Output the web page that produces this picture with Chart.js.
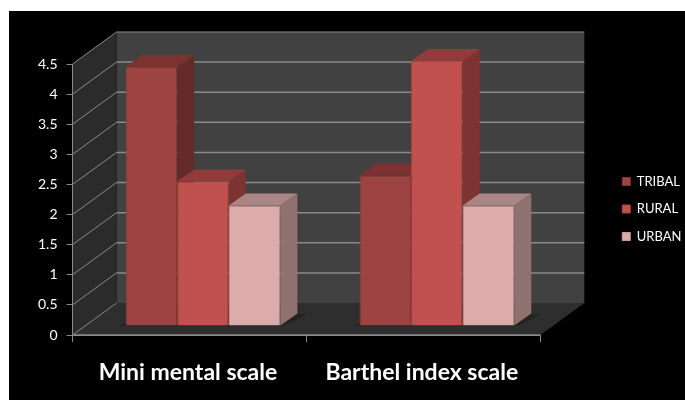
<!DOCTYPE html>
<html>
<head>
<meta charset="utf-8">
<style>
  html, body { margin: 0; padding: 0; background: #fff; }
  #wrap { position: relative; width: 685px; height: 400px; }
</style>
<script src="https://cdn.jsdelivr.net/npm/chart.js@4/dist/chart.umd.min.js"></script>
</head>
<body>
<div id="wrap"><canvas id="c" width="685" height="400"></canvas></div>
<script>
const categories = ['Mini mental scale', 'Barthel index scale'];
const tribal = [4.3, 2.5];
const rural = [2.4, 4.4];
const urban = [2.0, 2.0];

const seriesNames = ['TRIBAL', 'RURAL', 'URBAN'];
const frontColors = ['#9d4341', '#c0514e', '#dcabac'];
const edgeColors = ['#853737', '#a84643', '#c99a9a'];
const sideColors = ['#652b2a', '#7d3331', '#8f7270'];
const topColors = ['#7b3231', '#913c3a', '#a98685'];

// Depth of the box behind the front plane, and where the bars sit inside it
const BOX_DX = 44, BOX_DY = -32;
const BAR_SHIFT_X = 13.5, BAR_SHIFT_Y = -9;
const BAR_DX = 17, BAR_DY = -12;

function poly(ctx, pts) {
  ctx.beginPath();
  pts.forEach((p, i) => i ? ctx.lineTo(p[0], p[1]) : ctx.moveTo(p[0], p[1]));
  ctx.closePath();
  ctx.fill();
}

const box3d = {
  id: 'box3d',
  beforeDraw(chart) {
    const { ctx, scales: { x, y } } = chart;
    const L = x.left, R = x.right, B = y.getPixelForValue(0), T = y.getPixelForValue(4.5);
    ctx.save();
    // black panel
    ctx.fillStyle = '#000';
    ctx.fillRect(9, 11, 676, 389);
    // back wall
    ctx.fillStyle = '#414141';
    ctx.fillRect(L + BOX_DX, T + BOX_DY, R - L, B - T);
    // left wall
    ctx.fillStyle = '#2b2b2b';
    poly(ctx, [[L, T], [L + BOX_DX, T + BOX_DY], [L + BOX_DX, B + BOX_DY], [L, B]]);
    // floor
    ctx.fillStyle = '#2e2e2e';
    poly(ctx, [[L, B], [L + BOX_DX, B + BOX_DY], [R + BOX_DX, B + BOX_DY], [R, B]]);
    // soft shadow under the bars
    ctx.fillStyle = '#242424';
    const first = chart.getDatasetMeta(0).data;
    const last = chart.getDatasetMeta(2).data;
    first.forEach((bar, k) => {
      const l = bar.x - bar.width / 2 + BAR_SHIFT_X;
      const r = last[k].x + last[k].width / 2 + BAR_SHIFT_X;
      const b = B + BAR_SHIFT_Y;
      poly(ctx, [[l - 6, b], [l + BAR_DX, b + BAR_DY], [r + BAR_DX + 10, b + BAR_DY], [r + 4, b]]);
    });
    // gridlines on both walls
    ctx.strokeStyle = '#8a8a8a';
    y.ticks.forEach(t => {
      const py = y.getPixelForValue(t.value);
      ctx.lineWidth = 1;
      ctx.beginPath();
      ctx.moveTo(L, py);
      ctx.lineTo(L + BOX_DX, py + BOX_DY);
      ctx.stroke();
      if (t.value === 0) return;
      ctx.lineWidth = t.value === 4.5 ? 1 : 1.5;
      ctx.beginPath();
      ctx.moveTo(L + BOX_DX, py + BOX_DY);
      ctx.lineTo(R + BOX_DX, py + BOX_DY);
      ctx.stroke();
    });
    // thick front edge of the floor
    ctx.strokeStyle = '#6f6f6f';
    ctx.lineWidth = 2;
    ctx.beginPath();
    ctx.moveTo(L, B);
    ctx.lineTo(R, B);
    ctx.stroke();
    ctx.restore();
  },
  // Top and side faces go down first, series by series, left to right
  beforeDatasetsDraw(chart) {
    const { ctx } = chart;
    ctx.save();
    ctx.translate(BAR_SHIFT_X, BAR_SHIFT_Y);
    chart.data.datasets.forEach((_, i) => {
      chart.getDatasetMeta(i).data.forEach(bar => {
        const l = bar.x - bar.width / 2, r = bar.x + bar.width / 2;
        const t = bar.y, b = bar.base;
        ctx.fillStyle = sideColors[i];
        poly(ctx, [[r, t], [r + BAR_DX, t + BAR_DY], [r + BAR_DX, b + BAR_DY], [r, b]]);
        ctx.fillStyle = topColors[i];
        poly(ctx, [[l, t], [l + BAR_DX, t + BAR_DY], [r + BAR_DX, t + BAR_DY], [r, t]]);
      });
    });
    ctx.restore();
  },
  // Front faces sit in the same plane as the top and side faces
  beforeDatasetDraw(chart) {
    chart.ctx.save();
    chart.ctx.translate(BAR_SHIFT_X, BAR_SHIFT_Y);
  },
  afterDatasetDraw(chart) {
    chart.ctx.restore();
  }
};

function barSet(i, values) {
  return {
    label: seriesNames[i],
    data: values,
    backgroundColor: frontColors[i],
    borderColor: edgeColors[i],
    borderWidth: 1,
    categoryPercentage: 0.662,
    barPercentage: 1
  };
}

new Chart(document.getElementById('c'), {
  type: 'bar',
  data: {
    labels: categories,
    datasets: [barSet(0, tribal), barSet(1, rural), barSet(2, urban)]
  },
  plugins: [box3d],
  options: {
    responsive: false,
    animation: false,
    layout: { padding: { left: 29, top: 14.4, right: -6.5, bottom: -3.6 } },
    plugins: {
      tooltip: { enabled: false },
      // Empty heading reserves the space above the box without moving the legend
      title: { display: true, text: '', padding: { top: 0, bottom: 35.2 } },
      legend: {
        position: 'right',
        labels: {
          color: '#ffffff',
          font: { family: 'Lato', size: 13 },
          boxWidth: 8,
          boxHeight: 8,
          padding: 14.5
        }
      }
    },
    scales: {
      x: {
        border: { color: '#8a8a8a' },
        grid: { display: true, drawOnChartArea: false, tickLength: 7, color: '#8a8a8a' },
        ticks: {
          color: '#ffffff',
          padding: 17,
          labelOffset: -1.5,
          maxRotation: 0,
          font: { family: 'Lato', size: 23, weight: 'bold' }
        }
      },
      y: {
        min: 0,
        max: 4.5,
        border: { color: '#8a8a8a' },
        grid: { display: true, drawOnChartArea: false, tickLength: 6, color: '#8a8a8a' },
        ticks: {
          stepSize: 0.5,
          color: '#ffffff',
          padding: 9,
          font: { family: 'Lato', size: 14 },
          callback: v => String(v)
        }
      },
      // Blank axis that keeps the gap between the box and the legend
      gap: {
        type: 'linear',
        position: 'right',
        grid: { display: false },
        border: { display: false },
        ticks: { display: false },
        afterFit(scale) { scale.width = 67.5; }
      }
    }
  }
});
</script>
</body>
</html>
